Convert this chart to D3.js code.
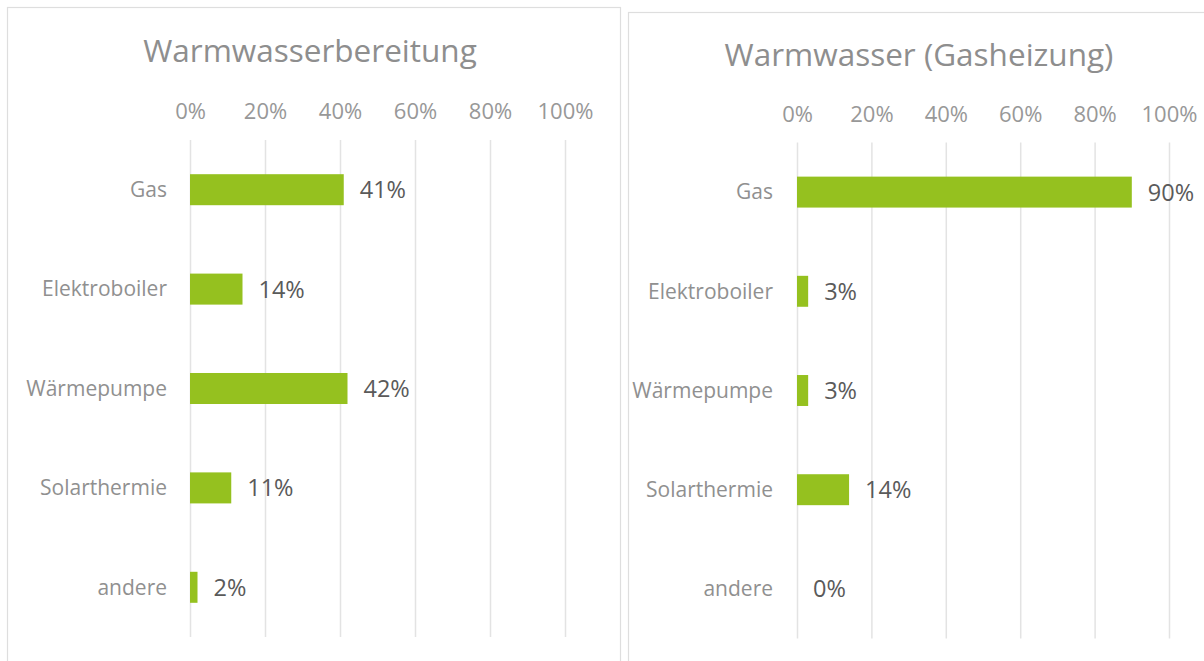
<!DOCTYPE html>
<html>
<head>
<meta charset="utf-8">
<script src="https://cdn.jsdelivr.net/npm/d3@7"></script>
<style>
  html, body { margin: 0; padding: 0; background: #fff; }
  svg { display: block; font-family: "Open Sans", sans-serif; }
</style>
</head>
<body>
<svg id="chart" width="1204" height="661"></svg>
<script>
const categories = ["Gas", "Elektroboiler", "Wärmepumpe", "Solarthermie", "andere"];
const valuesAll = [41, 14, 42, 11, 2];
const valuesGas = [90, 3, 3, 14, 0];
const tickValues = [0, 20, 40, 60, 80, 100];
const titles = ["Warmwasserbereitung", "Warmwasser (Gasheizung)"];

const svg = d3.select("#chart");

const panels = [
  {title: titles[0], values: valuesAll, box: {x: 7.5, y: 7.5, w: 613}, x0: 190, x1: 565, top: 140, bottom: 637, titleX: 310, titleY: 62, labelX: 167},
  {title: titles[1], values: valuesGas, box: {x: 628.5, y: 12.5, w: 600}, x0: 797, x1: 1169, top: 142.5, bottom: 638.5, titleX: 919, titleY: 66, labelX: 773}
];

panels.forEach(function(p) {
  const g = svg.append("g");

  g.append("rect")
    .attr("x", p.box.x)
    .attr("y", p.box.y)
    .attr("width", p.box.w)
    .attr("height", 700)
    .attr("fill", "#fff")
    .attr("stroke", "#dedede")
    .attr("stroke-width", 1.2);

  g.append("text")
    .attr("x", p.titleX)
    .attr("y", p.titleY)
    .attr("text-anchor", "middle")
    .attr("fill", "#8e8e8e")
    .style("font-size", "31.5px")
    .text(p.title);

  const x = d3.scaleLinear().domain([0, 100]).range([p.x0, p.x1]);
  const y = d3.scaleBand().domain(categories).range([p.top, p.bottom])
    .paddingInner(0.688).paddingOuter(0.344);

  const axis = d3.axisTop(x)
    .tickValues(tickValues)
    .tickFormat(d => d + "%")
    .tickSizeInner(-(p.bottom - p.top))
    .tickSizeOuter(0)
    .tickPadding(21);

  const ax = g.append("g")
    .attr("transform", "translate(0," + p.top + ")")
    .call(axis);
  ax.select(".domain").remove();
  ax.selectAll(".tick line").attr("stroke", "#e3e3e3").attr("stroke-width", 1.5);
  ax.selectAll(".tick text")
    .attr("fill", "#989898")
    .style("font-size", "22px")
    .style("font-family", "'Open Sans', sans-serif");

  g.selectAll(".cat")
    .data(categories)
    .join("text")
    .attr("class", "cat")
    .attr("x", p.labelX)
    .attr("y", d => y(d) + y.bandwidth() / 2)
    .attr("dy", "0.35em")
    .attr("text-anchor", "end")
    .attr("fill", "#909090")
    .style("font-size", "21px")
    .text(d => d);

  g.selectAll(".bar")
    .data(p.values)
    .join("rect")
    .attr("class", "bar")
    .attr("x", x(0))
    .attr("y", (d, i) => y(categories[i]))
    .attr("width", d => x(d) - x(0))
    .attr("height", y.bandwidth())
    .attr("fill", "#95c11f");

  g.selectAll(".val")
    .data(p.values)
    .join("text")
    .attr("class", "val")
    .attr("x", d => x(d) + 16)
    .attr("y", (d, i) => y(categories[i]) + y.bandwidth() / 2)
    .attr("dy", "0.36em")
    .attr("fill", "#5a5a5a")
    .style("font-size", "23.5px")
    .text(d => d + "%");
});
</script>
</body>
</html>
